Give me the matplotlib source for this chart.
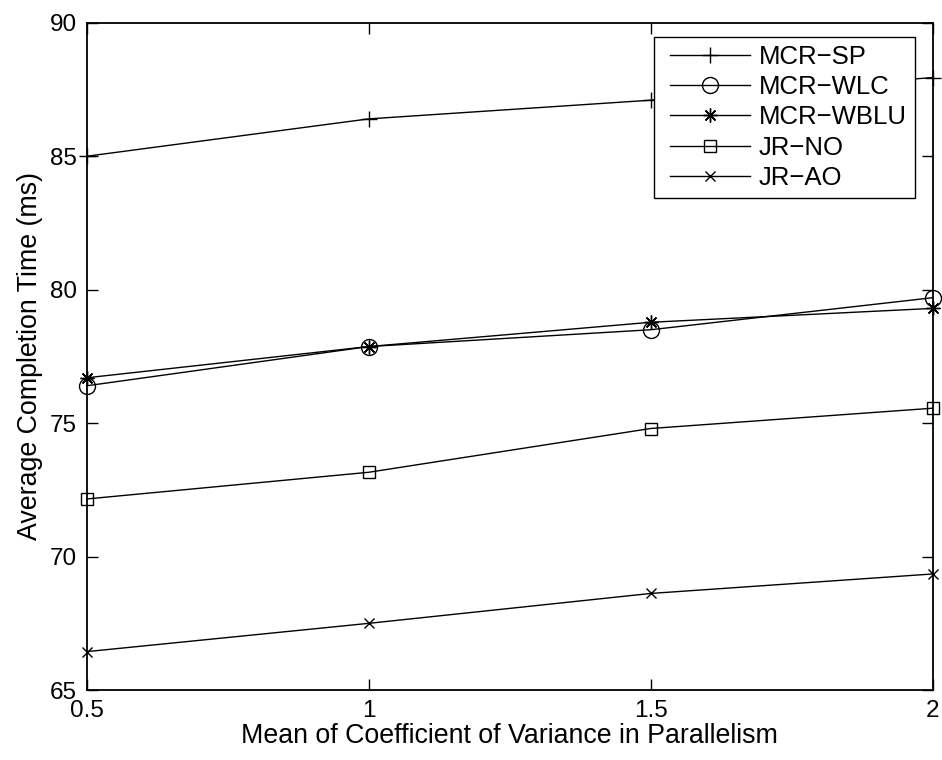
import matplotlib
matplotlib.use("Agg")
import matplotlib.pyplot as plt
from matplotlib.lines import Line2D
from matplotlib.legend_handler import HandlerLine2D

plt.rcParams['font.family'] = ['Liberation Sans', 'DejaVu Sans']

cv_mean = [0.5, 1.0, 1.5, 2.0]

mcr_sp = [85.0, 86.4, 87.1, 87.95]
mcr_wlc = [76.4, 77.87, 78.5, 79.7]
mcr_wblu = [76.7, 77.87, 78.78, 79.3]
jr_no = [72.16, 73.16, 74.8, 75.56]
jr_ao = [66.44, 67.5, 68.62, 69.35]

series_names = ["MCR\u2212SP", "MCR\u2212WLC", "MCR\u2212WBLU", "JR\u2212NO", "JR\u2212AO"]

x_ticks = [0.5, 1, 1.5, 2]
x_tick_labels = ["0.5", "1", "1.5", "2"]
y_ticks = [65, 70, 75, 80, 85, 90]

fig = plt.figure(figsize=(9.42, 7.6), dpi=100)
ax = fig.add_axes([0.092, 0.092, 0.898, 0.878])

styles = [
    dict(marker='+', markersize=11, mew=1.0),
    dict(marker='o', markersize=11.5, mew=1.0, mfc='none'),
    dict(marker=(8, 2, 0), markersize=10, mew=1.0),
    dict(marker='s', markersize=9, mew=1.0, mfc='none'),
    dict(marker='x', markersize=7.5, mew=1.0),
]
data = [mcr_sp, mcr_wlc, mcr_wblu, jr_no, jr_ao]

for vals, name, st in zip(data, series_names, styles):
    ax.plot(cv_mean, vals, color='black', lw=1.0, label=name, clip_on=False, **st)

ax.set_xlim(0.5, 2)
ax.set_ylim(65, 90)
ax.set_xticks(x_ticks)
ax.set_xticklabels(x_tick_labels)
ax.set_yticks(y_ticks)
ax.tick_params(direction='in', length=8, width=1.0, top=True, right=True,
               labelsize=17.5, pad=7)
for sp in ax.spines.values():
    sp.set_linewidth(1.3)

ax.set_xlabel("Mean of Coefficient of Variance in Parallelism", fontsize=19.3, labelpad=1)
ax.set_ylabel("Average Completion Time (ms)", fontsize=19.3, labelpad=5)

leg = ax.legend(loc='upper right', bbox_to_anchor=(0.979, 0.979), fontsize=18.5,
                fancybox=False, edgecolor='black', framealpha=1,
                handlelength=3.45, handletextpad=0.36, borderpad=0.3,
                labelspacing=0.25, borderaxespad=0,
                handler_map={Line2D: HandlerLine2D(xpad=0.33)})
leg.get_frame().set_linewidth(1.0)

fig.savefig("out.png", dpi=100, facecolor='white')
